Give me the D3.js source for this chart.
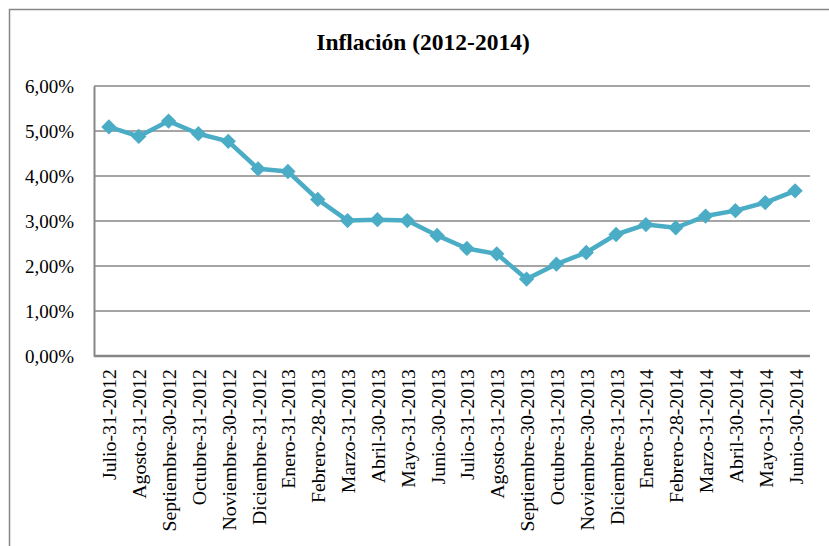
<!doctype html>
<html>
<head>
<meta charset="utf-8">
<script src="https://cdn.jsdelivr.net/npm/d3@7"></script>
<style>
  body { margin: 0; background: #fff; }
  svg { display: block; }
</style>
</head>
<body>
<svg width="829" height="546" id="chart"></svg>
<script>
// data
var months = ["Julio-31-2012", "Agosto-31-2012", "Septiembre-30-2012", "Octubre-31-2012",
  "Noviembre-30-2012", "Diciembre-31-2012", "Enero-31-2013", "Febrero-28-2013",
  "Marzo-31-2013", "Abril-30-2013", "Mayo-31-2013", "Junio-30-2013",
  "Julio-31-2013", "Agosto-31-2013", "Septiembre-30-2013", "Octubre-31-2013",
  "Noviembre-30-2013", "Diciembre-31-2013", "Enero-31-2014", "Febrero-28-2014",
  "Marzo-31-2014", "Abril-30-2014", "Mayo-31-2014", "Junio-30-2014"];
var inflacion = [0.0509, 0.0488, 0.0522, 0.0494, 0.0477, 0.0416, 0.0410, 0.0348,
  0.0301, 0.0303, 0.0301, 0.0268, 0.0239, 0.0227, 0.0171, 0.0204,
  0.0230, 0.0270, 0.0292, 0.0285, 0.0311, 0.0323, 0.0341, 0.0367];
var yTicks = [0, 0.01, 0.02, 0.03, 0.04, 0.05, 0.06];

var svg = d3.select("#chart"),
    font = "'Liberation Serif', 'Times New Roman', serif",
    gray = "#878787",
    blue = "#4BACC6";

var plotLeft = 94, plotRight = 810, plotTop = 86, plotBottom = 356;

// outer chart frame (right and bottom edges are cut off in the picture)
svg.append("rect")
  .attr("x", 9.5).attr("y", 9.5)
  .attr("width", 840).attr("height", 560)
  .attr("fill", "none")
  .attr("stroke", gray)
  .attr("stroke-width", 1.5);

var x = d3.scalePoint().domain(months).range([plotLeft, plotRight]).padding(0.5);
var y = d3.scaleLinear().domain([0, 0.06]).range([plotBottom, plotTop]);

var fmt = function(d) { return d3.format(".2f")(d * 100).replace(".", ",") + "%"; };

// title
svg.append("text")
  .attr("x", 423)
  .attr("y", 50)
  .attr("text-anchor", "middle")
  .style("font-family", font)
  .style("font-weight", "bold")
  .style("font-size", "23.5px")
  .text("Inflación (2012-2014)");

// gridlines
svg.append("g")
  .selectAll("line")
  .data(yTicks.slice(1))
  .enter()
  .append("line")
  .attr("x1", plotLeft).attr("x2", plotRight)
  .attr("y1", function(d) { return y(d); })
  .attr("y2", function(d) { return y(d); })
  .attr("stroke", gray)
  .attr("stroke-width", 1.5);

// y axis
var yAxis = svg.append("g")
  .attr("transform", "translate(" + plotLeft + ",0)")
  .call(d3.axisLeft(y).tickValues(yTicks).tickFormat(fmt).tickSize(0).tickPadding(20));
yAxis.select(".domain").attr("stroke", gray).attr("stroke-width", 2);
yAxis.selectAll("text")
  .style("font-family", font)
  .style("font-size", "19px")
  .attr("fill", "#000");

// x axis
var xAxis = svg.append("g")
  .attr("transform", "translate(0," + plotBottom + ")")
  .call(d3.axisBottom(x).tickSize(0).tickSizeOuter(0));
xAxis.select(".domain")
  .attr("d", "M" + plotLeft + ",0H" + plotRight)
  .attr("stroke", gray)
  .attr("stroke-width", 2.5);
xAxis.selectAll("text")
  .attr("transform", "rotate(-90)")
  .attr("x", -13)
  .attr("y", 0)
  .attr("dy", "0.35em")
  .attr("text-anchor", "end")
  .style("font-family", font)
  .style("font-size", "19.8px")
  .attr("fill", "#000");

// line
var line = d3.line()
  .x(function(d, i) { return x(months[i]); })
  .y(function(d) { return y(d); });

svg.append("path")
  .datum(inflacion)
  .attr("d", line)
  .attr("fill", "none")
  .attr("stroke", blue)
  .attr("stroke-width", 4.5)
  .attr("stroke-linejoin", "round");

// diamond markers
svg.append("g")
  .selectAll("path")
  .data(inflacion)
  .enter()
  .append("path")
  .attr("d", d3.symbol().type(d3.symbolDiamond2).size(150))
  .attr("transform", function(d, i) { return "translate(" + x(months[i]) + "," + y(d) + ")"; })
  .attr("fill", blue);
</script>
</body>
</html>
